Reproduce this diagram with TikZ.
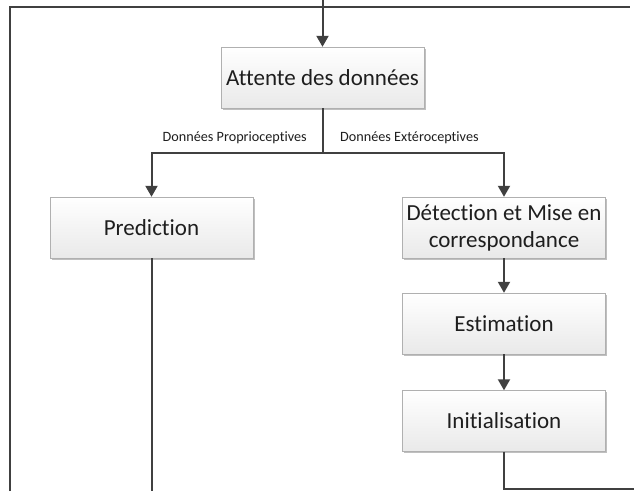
\documentclass[tikz,border=0pt]{standalone}
\usepackage{fontspec}
\setmainfont{Carlito}[Ligatures={NoCommon}]
\usepackage{tikz}
\usetikzlibrary{arrows.meta,calc,positioning,shadows}
\definecolor{lignegris}{HTML}{404040}
\definecolor{bordgris}{HTML}{B0B0B0}
\definecolor{fondbas}{HTML}{E9E9E9}
\definecolor{textegris}{HTML}{1E1E1E}
\tikzset{%
	etape/.style     = {draw=bordgris, rectangle, minimum width=203pt, minimum height=61pt, text centered, align=center, top color=white, bottom color=fondbas, text=textegris, font=\fontsize{23}{27}\selectfont, drop shadow={shadow xshift=1.5pt, shadow yshift=-1.5pt, opacity=0.25, fill=black}},
	etiquette/.style = {inner sep=0pt, text=textegris, font=\fontsize{14.2}{17}\selectfont},
	ligne/.style     = {line width=2pt, draw=lignegris},
	fleche/.style    = {ligne, -{Triangle[length=11pt, width=12pt]}},
}
\begin{document}
\begin{tikzpicture}[x=1pt, y=-1pt]
	\useasboundingbox (0,0) rectangle (634,491);
	% boites
	\node[etape] (attente) at (322.5,77.5) {Attente des données};
	\node[etape] (prediction) at (151.5,227.5) {Prediction};
	\node[etape] (detection) at (504,227.5) {Détection et Mise en\\correspondance};
	\node[etape] (estimation) at (504,323.5) {Estimation};
	\node[etape] (initialisation) at (504,421) {Initialisation};
	
	% etiquettes
	\node[etiquette, anchor=east] (proprio) at (307,138) {Données Proprioceptives};
	\node[etiquette, anchor=west] (extero) at (340,138) {Données Extéroceptives};
	
	% points libres
	\coordinate (entree) at (322.5,0);
	\coordinate (split) at (322.5,153);
	\coordinate (cadrebas) at (10,491);
	\coordinate (cadrehaut) at (10,7);
	\coordinate (cadrefin) at (630,7);
	\coordinate (predbas) at (151.5,491);
	\coordinate (sortie) at (634,489);
	
	% liaisons
	\draw[ligne] (cadrebas) -- (cadrehaut) -- (cadrefin);
	\draw[fleche] (entree) -- (attente);
	\draw[ligne] (attente) -- (split);
	\draw[fleche] (split) -| (prediction);
	\draw[fleche] (split) -| (detection);
	\draw[fleche] (detection) -- (estimation);
	\draw[fleche] (estimation) -- (initialisation);
	\draw[ligne] (prediction) -- (predbas);
	\draw[ligne] (initialisation) |- (sortie);
\end{tikzpicture}
\end{document}
